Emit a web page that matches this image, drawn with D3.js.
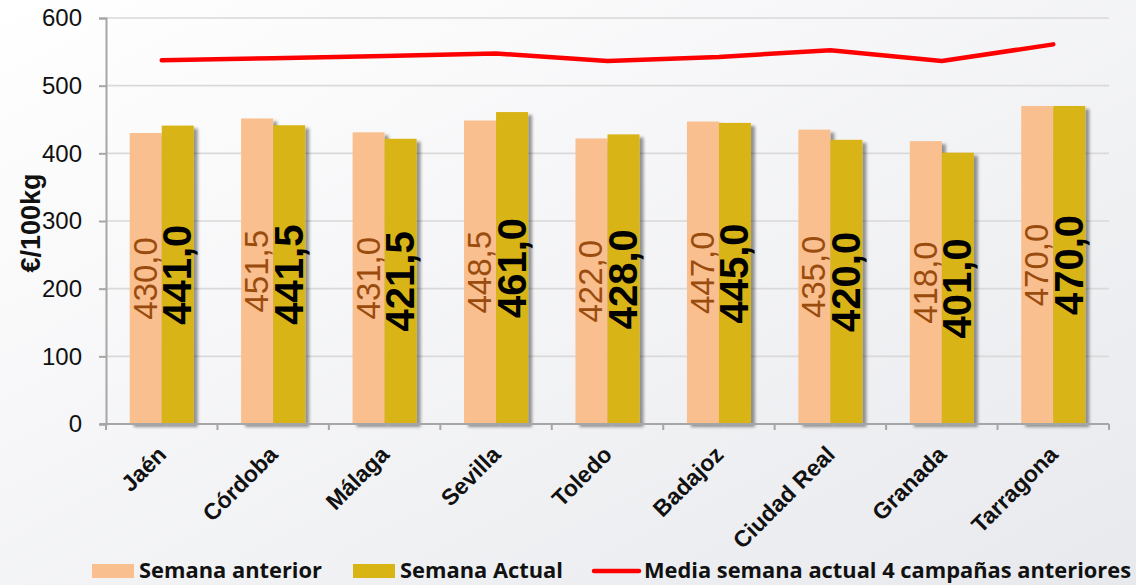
<!DOCTYPE html>
<html><head><meta charset="utf-8">
<script src="https://cdn.jsdelivr.net/npm/d3@7"></script>
<style>
html,body{margin:0;padding:0;background:#fff;}
svg{display:block;}
</style></head>
<body>
<svg id="chart" width="1136" height="585"></svg>
<script>
const categories = ["Jaén","Córdoba","Málaga","Sevilla","Toledo","Badajoz","Ciudad Real","Granada","Tarragona"];
const semanaAnterior = [430.0, 451.5, 431.0, 448.5, 422.0, 447.0, 435.0, 418.0, 470.0];
const semanaActual = [441.0, 441.5, 421.5, 461.0, 428.0, 445.0, 420.0, 401.0, 470.0];
const mediaCampanas = [537.5, 540.5, 544, 547.5, 536.5, 542.5, 552.5, 536.5, 561];
const yTicks = [0, 100, 200, 300, 400, 500, 600];
const seriesNames = ["Semana anterior", "Semana Actual", "Media semana actual 4 campañas anteriores"];

(function(){
const svg = d3.select("#chart");
const W = 1136, H = 585;
const defs = svg.append("defs");
const grad = defs.append("linearGradient").attr("id","bg").attr("x1","0").attr("y1","0").attr("x2","1").attr("y2","1");
grad.append("stop").attr("offset","0").attr("stop-color","#ffffff");
grad.append("stop").attr("offset","1").attr("stop-color","#e8e9ed");
const f = defs.append("filter").attr("id","sh").attr("x","-20%").attr("y","-10%").attr("width","150%").attr("height","130%");
f.append("feDropShadow").attr("dx",4).attr("dy",3).attr("stdDeviation",1.8).attr("flood-color","#000").attr("flood-opacity",0.4);

svg.append("rect").attr("width",W).attr("height",H).attr("fill","url(#bg)");

const mLeft = 106, mRight = 1109, mTop = 18, mBottom = 424;
const x0 = d3.scaleBand().domain(categories).range([mLeft, mRight]).padding(0);
const x1 = d3.scaleBand().domain(["prev","act"]).range([0, x0.bandwidth()]).paddingInner(0).paddingOuter(0.74);
const y = d3.scaleLinear().domain([0, 600]).range([mBottom, mTop]);

// gridlines
svg.append("g").selectAll("line").data(yTicks.filter(d=>d>0)).join("line")
  .attr("x1", mLeft).attr("x2", mRight).attr("y1", d=>y(d)).attr("y2", d=>y(d))
  .attr("stroke","#d9d9d9").attr("stroke-width",1.6);

// y axis
const yAxis = svg.append("g").attr("transform",`translate(${mLeft},0)`)
  .call(d3.axisLeft(y).tickValues(yTicks).tickSize(7).tickPadding(17).tickFormat(d3.format("d")));
yAxis.select(".domain").attr("stroke","#a6a6a6").attr("stroke-width",2);
yAxis.selectAll(".tick line").attr("stroke","#a6a6a6").attr("stroke-width",2);
yAxis.selectAll(".tick text").attr("font-family","'Liberation Sans', Arial, sans-serif").attr("font-size",24).attr("fill","#111");

// bars
const prevG = svg.append("g");
const actG = svg.append("g");
categories.forEach((c,i)=>{
  prevG.append("rect").attr("x", x0(c)+x1("prev")).attr("width", x1.bandwidth())
    .attr("y", y(semanaAnterior[i])).attr("height", y(0)-y(semanaAnterior[i]))
    .attr("fill","#f9bf8f").attr("filter","url(#sh)");
});
categories.forEach((c,i)=>{
  actG.append("rect").attr("x", x0(c)+x1("act")).attr("width", x1.bandwidth())
    .attr("y", y(semanaActual[i])).attr("height", y(0)-y(semanaActual[i]))
    .attr("fill","#d9b415").attr("filter","url(#sh)");
});

// x axis
const xAxisG = svg.append("g").attr("transform",`translate(0,${mBottom})`);
xAxisG.append("line").attr("x1",mLeft-6).attr("x2",mRight).attr("y1",0).attr("y2",0).attr("stroke","#a6a6a6").attr("stroke-width",2);
const bounds = categories.map(c=>x0(c)).concat([x0(categories[categories.length-1])+x0.bandwidth()]);
xAxisG.selectAll("line.tk").data(bounds).join("line").attr("class","tk")
  .attr("x1",d=>d).attr("x2",d=>d).attr("y1",0).attr("y2",6).attr("stroke","#a6a6a6").attr("stroke-width",2);

const fmt = v => v.toFixed(1).replace(".", ",");

// value labels
categories.forEach((c,i)=>{
  const cxp = x0(c)+x1("prev")+x1.bandwidth()/2;
  const cyp = (y(semanaAnterior[i])+y(0))/2;
  svg.append("text").attr("transform",`translate(${cxp+11},${cyp}) rotate(-90)`)
    .attr("text-anchor","middle").attr("font-family","'Liberation Sans', Arial, sans-serif")
    .attr("font-size",33).attr("fill","#9a4c0e").text(fmt(semanaAnterior[i]));
  const cxa = x0(c)+x1("act")+x1.bandwidth()/2;
  const cya = (y(semanaActual[i])+y(0))/2;
  svg.append("text").attr("transform",`translate(${cxa+13.5},${cya}) rotate(-90)`)
    .attr("text-anchor","middle").attr("font-family","'Liberation Sans', Arial, sans-serif")
    .attr("font-weight","bold").attr("font-size",40).attr("fill","#000").text(fmt(semanaActual[i]));
});

// line
const line = d3.line().x((d,i)=>x0(categories[i])+x0.bandwidth()/2).y(d=>y(d));
svg.append("path").datum(mediaCampanas).attr("d",line).attr("fill","none")
  .attr("stroke","#ff0000").attr("stroke-width",4.5).attr("stroke-linejoin","round").attr("stroke-linecap","round");

// category labels
categories.forEach(c=>{
  const cx = x0(c)+x0.bandwidth()/2;
  svg.append("text").attr("transform",`translate(${cx+6},${mBottom+32}) rotate(-45)`)
    .attr("text-anchor","end").attr("font-family","'Liberation Sans', Arial, sans-serif")
    .attr("font-weight","bold").attr("font-size",23).attr("fill","#111").text(c);
});

// y title
svg.append("text").attr("transform",`translate(40,223) rotate(-90)`).attr("text-anchor","middle")
  .attr("font-family","'Liberation Sans', Arial, sans-serif").attr("font-weight","bold").attr("font-size",27)
  .attr("fill","#111").text("€/100kg");

// legend
const lg = svg.append("g");
const legFont = "'Open Sans', 'Noto Sans', sans-serif";
lg.append("rect").attr("x",92).attr("y",564).attr("width",42).attr("height",14).attr("fill","#f9bf8f");
lg.append("text").attr("x",139).attr("y",578).attr("font-family",legFont).attr("font-weight","bold").attr("font-size",21)
  .attr("textLength",183).attr("lengthAdjust","spacingAndGlyphs").attr("fill","#111").text(seriesNames[0]);
lg.append("rect").attr("x",353).attr("y",564).attr("width",42).attr("height",14).attr("fill","#d9b415");
lg.append("text").attr("x",400).attr("y",578).attr("font-family",legFont).attr("font-weight","bold").attr("font-size",21)
  .attr("textLength",163).attr("lengthAdjust","spacingAndGlyphs").attr("fill","#111").text(seriesNames[1]);
lg.append("line").attr("x1",594).attr("x2",639).attr("y1",571).attr("y2",571).attr("stroke","#ff0000").attr("stroke-width",4.5).attr("stroke-linecap","round");
lg.append("text").attr("x",644).attr("y",578).attr("font-family",legFont).attr("font-weight","bold").attr("font-size",21)
  .attr("textLength",487).attr("lengthAdjust","spacingAndGlyphs").attr("fill","#111").text(seriesNames[2]);
})();
</script>
</body></html>
